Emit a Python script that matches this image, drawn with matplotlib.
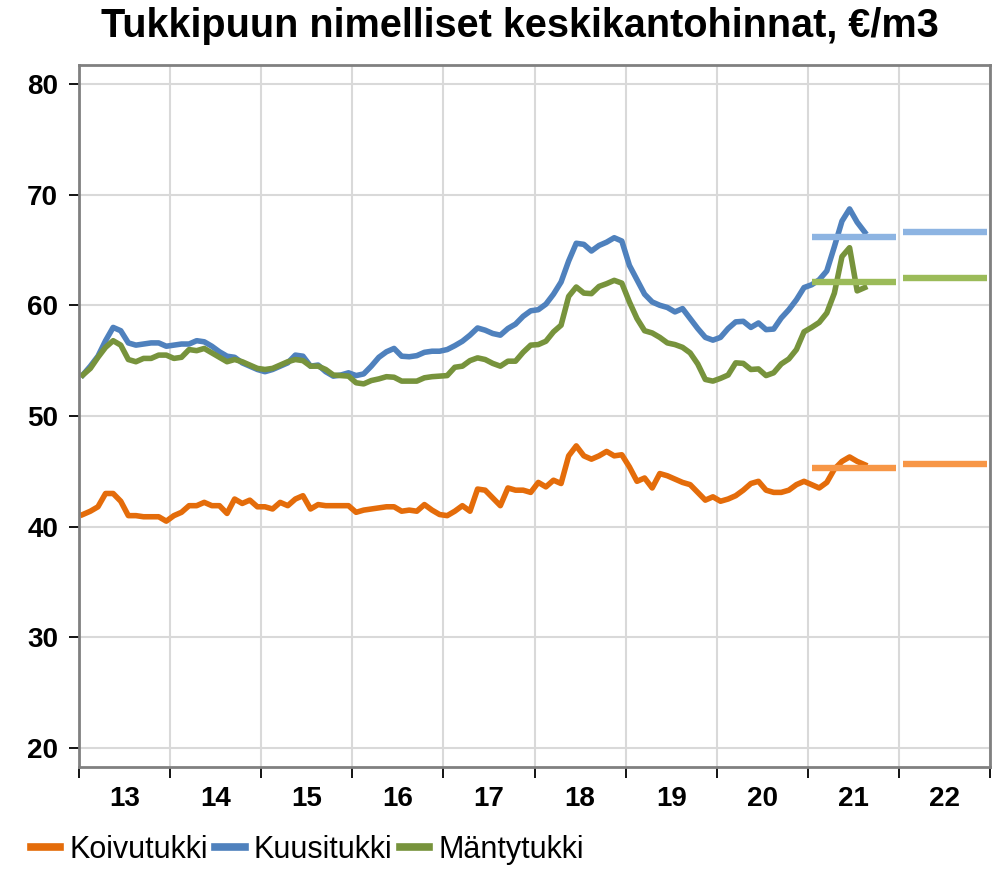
import numpy as np
import matplotlib
matplotlib.use("Agg")
import matplotlib.pyplot as plt

# -----------------------------
# Data: monthly nominal stumpage prices, Jan 2013 - Aug 2021 (EUR/m3)
# -----------------------------
koivu = [
    41.1, 41.4, 41.8, 43.0, 43.0, 42.3, 41.0, 41.0, 40.9, 40.9, 40.9, 40.5,
    41.0, 41.3, 41.9, 41.9, 42.2, 41.9, 41.9, 41.2, 42.5, 42.1, 42.4, 41.8,
    41.8, 41.6, 42.2, 41.9, 42.5, 42.8, 41.6, 42.0, 41.9, 41.9, 41.9, 41.9,
    41.3, 41.5, 41.6, 41.7, 41.8, 41.8, 41.4, 41.5, 41.4, 42.0, 41.5, 41.1,
    41.0, 41.4, 41.9, 41.4, 43.4, 43.3, 42.6, 41.9, 43.5, 43.3, 43.3, 43.1,
    44.0, 43.6, 44.2, 43.9, 46.4, 47.3, 46.4, 46.1, 46.4, 46.8, 46.4, 46.5,
    45.4, 44.1, 44.4, 43.5, 44.8, 44.6, 44.3, 44.0, 43.8, 43.1, 42.4, 42.7,
    42.3, 42.5, 42.8, 43.3, 43.9, 44.1, 43.3, 43.1, 43.1, 43.3, 43.8, 44.1,
    43.8, 43.5, 44.0, 45.2, 45.9, 46.3, 45.9, 45.6,
]
kuusi = [
    53.7, 54.5, 55.4, 56.8, 58.0, 57.7, 56.6, 56.4, 56.5, 56.6, 56.6, 56.3,
    56.4, 56.5, 56.5, 56.8, 56.7, 56.3, 55.8, 55.4, 55.3, 54.8, 54.5, 54.2,
    54.0, 54.2, 54.5, 54.8, 55.5, 55.4, 54.5, 54.6, 54.0, 53.6, 53.7, 53.9,
    53.65, 53.8, 54.5, 55.3, 55.8, 56.1, 55.4, 55.35, 55.45, 55.75, 55.85, 55.85,
    56.0, 56.35, 56.75, 57.3, 57.95, 57.75, 57.45, 57.3, 57.9, 58.3, 59.0, 59.5,
    59.6, 60.1, 61.0, 62.1, 64.0, 65.6, 65.5, 64.9, 65.4, 65.7, 66.1, 65.8,
    63.6, 62.3, 61.0, 60.3, 60.0, 59.8, 59.4, 59.7, 58.8, 57.9, 57.1, 56.85,
    57.1, 57.9, 58.5, 58.55, 58.0, 58.4, 57.8, 57.85, 58.85, 59.6, 60.5, 61.6,
    61.85, 62.3, 63.1, 65.3, 67.6, 68.7, 67.5, 66.6,
]
manty = [
    53.7, 54.3, 55.3, 56.2, 56.8, 56.4, 55.1, 54.9, 55.2, 55.2, 55.5, 55.5,
    55.2, 55.3, 56.0, 55.9, 56.1, 55.7, 55.3, 54.9, 55.1, 54.9, 54.6, 54.3,
    54.2, 54.3, 54.6, 54.9, 55.1, 55.0, 54.5, 54.5, 54.2, 53.7, 53.65, 53.6,
    53.0, 52.9, 53.2, 53.35, 53.55, 53.5, 53.15, 53.15, 53.15, 53.45, 53.55, 53.6,
    53.65, 54.4, 54.5, 55.0, 55.25, 55.1, 54.75, 54.5, 54.95, 54.95, 55.75, 56.4,
    56.45, 56.75, 57.6, 58.2, 60.8, 61.65, 61.1, 61.05, 61.7, 61.95, 62.25, 62.0,
    60.3, 58.8, 57.7, 57.5, 57.1, 56.6, 56.45, 56.2, 55.7, 54.7, 53.3, 53.15,
    53.4, 53.7, 54.8, 54.75, 54.2, 54.25, 53.65, 53.9, 54.7, 55.15, 56.0, 57.6,
    58.0, 58.45, 59.3, 61.1, 64.4, 65.2, 61.3, 61.6,
]

# Forecast levels for 2021 and 2022
ennuste_vuodet = [2021, 2022]
koivu_ennuste = [45.3, 45.7]
kuusi_ennuste = [66.2, 66.6]
manty_ennuste = [62.1, 62.5]

vuodet = list(range(2013, 2023))
vuosi_labels = [str(v)[2:] for v in vuodet]

# month midpoints as fractional years
x = 2013 + (np.arange(len(koivu)) + 0.5) / 12

# -----------------------------
# Colours
# -----------------------------
c_koivu = "#E46C0A"
c_kuusi = "#4F81BD"
c_manty = "#77933C"
c_koivu_e = "#F79646"
c_kuusi_e = "#8DB4E2"
c_manty_e = "#9BBB59"

plt.rcParams["font.family"] = ["Liberation Sans", "DejaVu Sans"]

fig = plt.figure(figsize=(9.96, 8.69), dpi=100)
ax = fig.add_axes([0.0793, 0.1174, 0.9147, 0.8078])

ax.plot(x, koivu, color=c_koivu, lw=4, label="Koivutukki", solid_joinstyle="round")
ax.plot(x, kuusi, color=c_kuusi, lw=4, label="Kuusitukki", solid_joinstyle="round")
ax.plot(x, manty, color=c_manty, lw=4, label="Mäntytukki", solid_joinstyle="round")

# forecast bars: one flat line per year
for vals, col in [(koivu_ennuste, c_koivu_e), (kuusi_ennuste, c_kuusi_e), (manty_ennuste, c_manty_e)]:
    for v, val in zip(ennuste_vuodet, vals):
        ax.plot([v + 0.05, v + 0.97], [val, val], color=col, lw=4.6, solid_capstyle="butt")

ax.set_xlim(2013, 2023)
ax.set_ylim(18.3, 81.7)
ax.set_yticks(range(20, 81, 10))

ax.set_xticks(range(2013, 2024))
ax.set_xticks([v + 0.5 for v in vuodet], minor=True)
ax.set_xticklabels([])
ax.set_xticklabels(vuosi_labels, minor=True)

ax.tick_params(axis="x", which="major", length=8, width=1.3, color="black", direction="out")
ax.tick_params(axis="x", which="minor", length=0, pad=14, labelsize=20)
ax.tick_params(axis="y", length=7, width=1.3, color="black", pad=8, labelsize=20)
for lab in ax.get_xticklabels(minor=True) + ax.get_yticklabels():
    lab.set_fontweight("bold")

ax.grid(True, which="major", color="#D9D9D9", lw=1.5)
ax.set_axisbelow(True)
for s in ax.spines.values():
    s.set_color("#808080")
    s.set_linewidth(2)

fig.suptitle("Tukkipuun nimelliset keskikantohinnat, €/m3", x=0.522, y=0.992,
             fontsize=28.5, fontweight="bold", va="top")

leg = fig.legend(loc="lower left", bbox_to_anchor=(0.019, -0.009), borderaxespad=0,
                 ncol=3, frameon=False, fontsize=22, handlelength=0.95,
                 handletextpad=0.3, columnspacing=0.25)
for h in leg.get_lines():
    h.set_linewidth(5.5)

fig.savefig("out.png", dpi=100)
